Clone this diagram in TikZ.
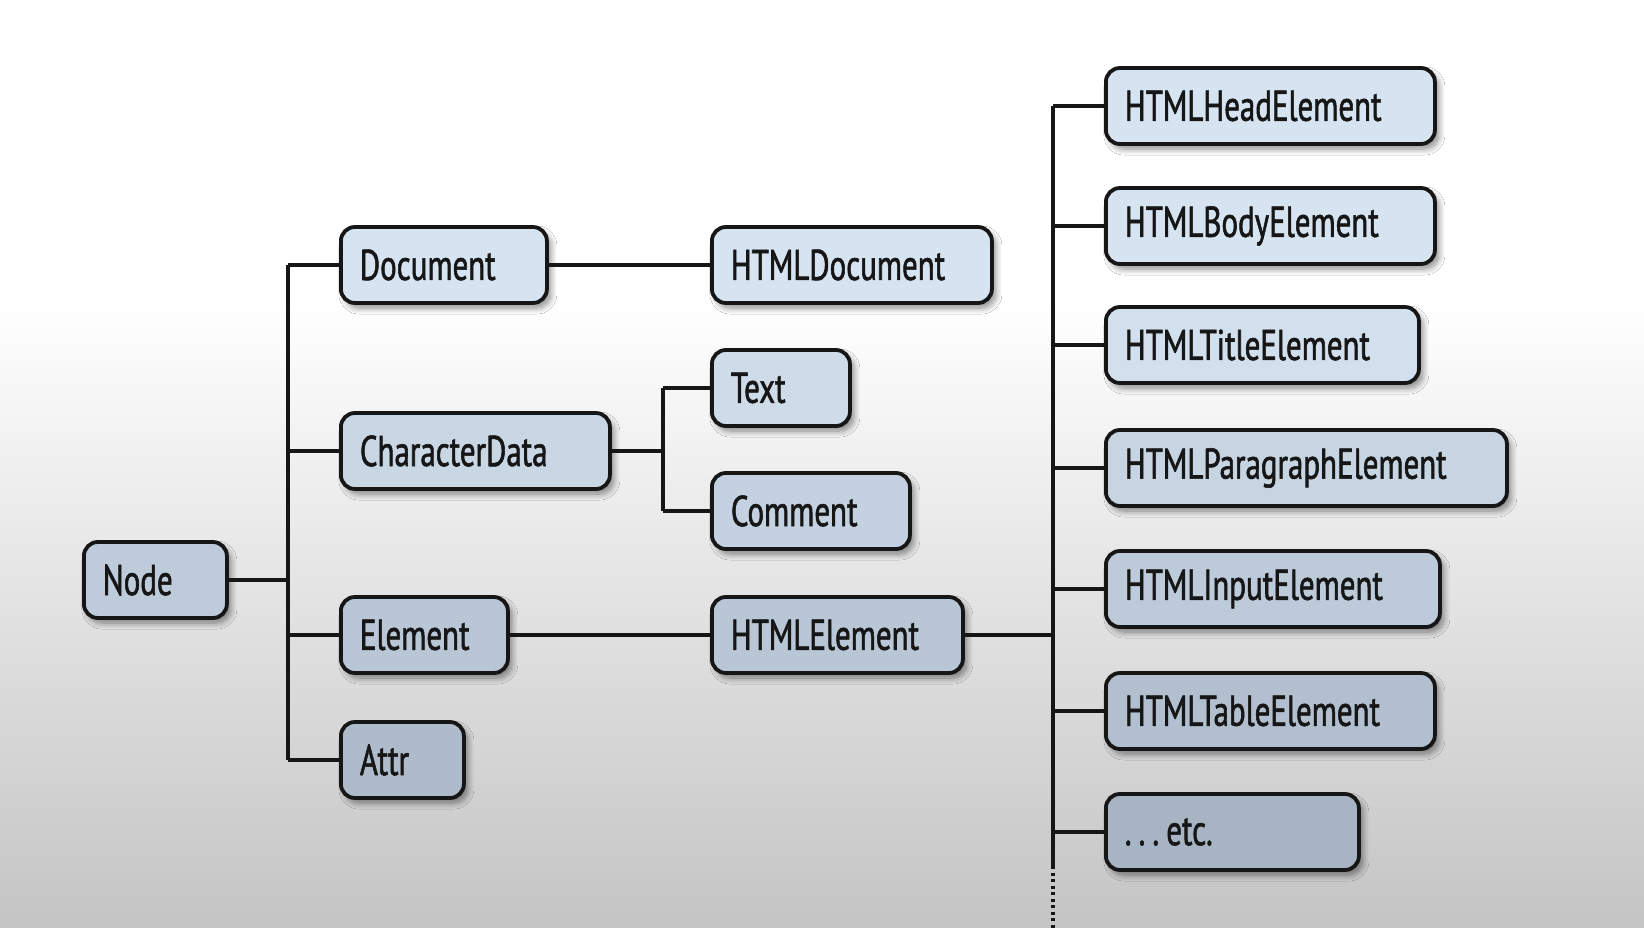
\documentclass[tikz,border=0pt]{standalone}
\usepackage{fontspec}
\setmainfont{PT Sans}[FakeStretch=0.72, FakeBold=1.3]
\usetikzlibrary{shadows.blur}
\definecolor{boxtop}{RGB}{214,228,242}
\definecolor{boxbot}{RGB}{166,180,196}
\definecolor{bggray}{RGB}{196,196,196}
\definecolor{ink}{RGB}{22,22,22}
\tikzset{
  box/.style={draw=ink, line width=3.8pt, rounded corners=14pt, anchor=west,
    minimum height=76pt, inner xsep=19pt, inner ysep=0pt, align=left,
    font=\fontsize{43}{43}\selectfont, text=ink,
    blur shadow={shadow xshift=4pt, shadow yshift=-5pt, shadow opacity=45, shadow blur steps=8, shadow blur radius=6pt}},
  link/.style={draw=ink, line width=3.4pt},
  dotlink/.style={draw=ink, line width=3.4pt, dash pattern=on 3pt off 3.5pt},
}
\begin{document}
\begin{tikzpicture}[x=1pt,y=-1pt]
\useasboundingbox (0,0) rectangle (1644,928);
\fill[white] (0,0) rectangle (1644,300);
\shade[top color=white, bottom color=bggray] (0,300) rectangle (1644,928);
% column 1
\node[box, fill=boxbot!53!boxtop, text width=105pt] (node) at (82,580) {Node};
% column 2
\node[box, fill=boxtop, text width=168pt] (document) at (339,265) {Document};
\node[box, fill=boxbot!28!boxtop, text width=231pt] (chardata) at (339,451) {CharacterData};
\node[box, fill=boxbot!63!boxtop, text width=129pt] (element) at (339,635) {Element};
\node[box, fill=boxbot!86!boxtop, text width=85pt] (attr) at (339,760) {Attr};
% column 3
\node[box, fill=boxtop, text width=242pt] (htmldoc) at (710,265) {HTMLDocument};
\node[box, fill=boxbot!17!boxtop, text width=100pt] (text) at (710,388) {Text};
\node[box, fill=boxbot!40!boxtop, text width=160pt] (comment) at (710,511) {Comment};
\node[box, fill=boxbot!63!boxtop, text width=213pt] (htmlel) at (710,635) {HTMLElement};
% column 4
\node[box, fill=boxtop, text width=291pt] (head) at (1104,106) {HTMLHeadElement};
\node[box, fill=boxtop, text width=291pt] (body) at (1104,226) {HTMLBodyElement};
\node[box, fill=boxbot!8!boxtop, text width=275pt] (title) at (1104,345) {HTMLTitleElement};
\node[box, fill=boxbot!32!boxtop, text width=363pt] (para) at (1104,468) {HTMLParagraphElement};
\node[box, fill=boxbot!54!boxtop, text width=296pt] (input) at (1104,589) {HTMLInputElement};
\node[box, fill=boxbot!77!boxtop, text width=291pt] (table) at (1104,711) {HTMLTableElement};
\node[box, fill=boxbot!100!boxtop, text width=215pt] (etc) at (1104,832) {.\,.\,.\,etc.};
% trunk coordinates
\coordinate (t1top) at (288,265);
\coordinate (t1bot) at (288,760);
\coordinate (t1mid) at (288,580);
\coordinate (t2top) at (663,388);
\coordinate (t2bot) at (663,511);
\coordinate (t2mid) at (663,451);
\coordinate (t3top) at (1053,106);
\coordinate (t3sol) at (1053,866);
\coordinate (t3end) at (1053,928);
\coordinate (t3mid) at (1053,635);
% connectors
\draw[link] (t1top) -- (t1bot);
\draw[link] (node.east) -- (t1mid);
\draw[link] (t1top) -- (document.west);
\draw[link] (288,451) -- (chardata.west);
\draw[link] (288,635) -- (element.west);
\draw[link] (t1bot) -- (attr.west);
\draw[link] (document.east) -- (htmldoc.west);
\draw[link] (element.east) -- (htmlel.west);
\draw[link] (t2top) -- (t2bot);
\draw[link] (chardata.east) -- (t2mid);
\draw[link] (t2top) -- (text.west);
\draw[link] (t2bot) -- (comment.west);
\draw[link] (t3top) -- (t3sol);
\draw[dotlink] (t3sol) -- (t3end);
\draw[link] (htmlel.east) -- (t3mid);
\draw[link] (t3top) -- (head.west);
\draw[link] (1053,226) -- (body.west);
\draw[link] (1053,345) -- (title.west);
\draw[link] (1053,468) -- (para.west);
\draw[link] (1053,589) -- (input.west);
\draw[link] (1053,711) -- (table.west);
\draw[link] (1053,832) -- (etc.west);
\end{tikzpicture}
\end{document}
